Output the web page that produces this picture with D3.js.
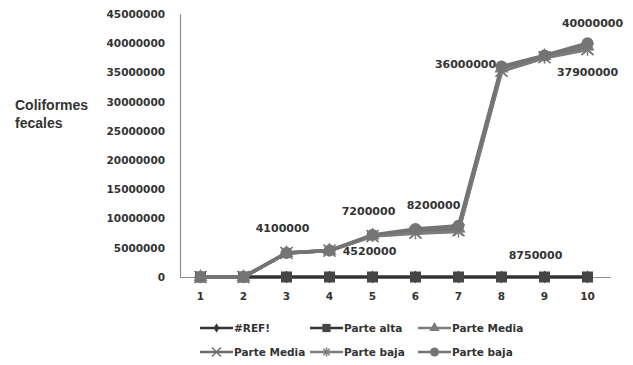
<!DOCTYPE html>
<html>
<head>
<meta charset="utf-8">
<script src="https://cdn.jsdelivr.net/npm/d3@7"></script>
<style>
  body { margin: 0; background: #fff; }
  svg { display: block; }
  text { font-family: "DejaVu Sans", sans-serif; }
</style>
</head>
<body>
<svg id="chart" width="633" height="365"></svg>
<script>
// Muestreos 1..10
const categories = ["1", "2", "3", "4", "5", "6", "7", "8", "9", "10"];

// Valores por serie (coliformes fecales)
const refValues        = [0, 0, 0, 0, 0, 0, 0, 0, 0, 0];
const parteAltaValues  = [0, 0, 0, 0, 0, 0, 0, 0, 0, 0];
const parteMediaTri    = [0, 0, 4100000, 4520000, 7100000, 7900000, 8300000, 35700000, 37800000, 39500000];
const parteMediaCross  = [0, 0, 4100000, 4520000, 7000000, 7600000, 8000000, 35300000, 37600000, 39000000];
const parteBajaStar    = [0, 0, 4100000, 4520000, 7000000, 7500000, 7800000, 35200000, 37500000, 38900000];
const parteBajaCircle  = [0, 0, 4100000, 4520000, 7200000, 8200000, 8750000, 36000000, 37900000, 40000000];

const yTicks = [0, 5000000, 10000000, 15000000, 20000000, 25000000, 30000000, 35000000, 40000000, 45000000];

// Desplazamiento de cada etiqueta respecto a su punto (muestreos 3..10)
const labelOffsets = [
  null, null,
  [-4, -25], [40, 1], [-4, -24], [18, -24], [77, 29], [-36, -2], [43, 17], [5, -20]
];

const series = [
  { name: "#REF!",       values: refValues,       color: "#343434", width: 3,   marker: "diamond" },
  { name: "Parte alta",  values: parteAltaValues, color: "#343434", width: 3,   marker: "square" },
  { name: "Parte Media", values: parteMediaTri,   color: "#7c7c7c", width: 3.5, marker: "triangle" },
  { name: "Parte Media", values: parteMediaCross, color: "#6c6c6c", width: 3.5, marker: "cross" },
  { name: "Parte baja",  values: parteBajaStar,   color: "#7c7c7c", width: 3.5, marker: "star" },
  { name: "Parte baja",  values: parteBajaCircle, color: "#747474", width: 3.5, marker: "circle" }
];

const svg = d3.select("#chart");

const x = d3.scaleBand().domain(categories).range([180, 610]);
const y = d3.scaleLinear().domain([0, 45000000]).range([277, 14]);
const cx = c => x(c) + x.bandwidth() / 2 - 1;

// Ejes
const yAxis = svg.append("g")
  .attr("transform", "translate(180,0)")
  .call(d3.axisLeft(y).tickValues(yTicks).tickSize(0).tickPadding(15).tickFormat(d3.format("d")));
yAxis.select(".domain").attr("stroke", "#8c8c8c").attr("stroke-width", 1.2);
yAxis.selectAll("text").attr("font-size", 10.5).attr("font-weight", "bold").attr("fill", "#333");

const xAxis = svg.append("g")
  .attr("transform", "translate(0,277)")
  .call(d3.axisBottom(x).tickSize(0).tickPadding(15));
xAxis.select(".domain").attr("stroke", "#8c8c8c").attr("stroke-width", 1.2);
xAxis.selectAll("text").attr("font-size", 10.5).attr("font-weight", "bold").attr("fill", "#333")
  .attr("transform", "translate(-1,1)");

// Título del eje Y
svg.append("text").attr("x", 15).attr("y", 110)
  .attr("font-size", 14).attr("font-weight", "bold").attr("fill", "#333")
  .style("font-family", "Liberation Sans, Arial, sans-serif")
  .selectAll("tspan").data(["Coliformes", "fecales"]).join("tspan")
  .attr("x", 15).attr("dy", (d, i) => i === 0 ? 0 : 18).text(d => d);

function drawMarker(g, type, color, px, py, s) {
  switch (type) {
    case "diamond":
      g.append("path").attr("d", d3.symbol(d3.symbolDiamond, s * s * 0.6)()).attr("transform", `translate(${px},${py})`).attr("fill", color);
      break;
    case "square":
      g.append("rect").attr("x", px - s / 2).attr("y", py - s / 2).attr("width", s).attr("height", s).attr("fill", color);
      break;
    case "triangle":
      g.append("path").attr("d", d3.symbol(d3.symbolTriangle, s * s * 0.7)()).attr("transform", `translate(${px},${py})`).attr("fill", color);
      break;
    case "cross":
      g.append("path").attr("d", d3.symbol(d3.symbolTimes, s * s * 0.8)()).attr("transform", `translate(${px},${py})`)
        .attr("fill", "none").attr("stroke", color).attr("stroke-width", 1.5);
      break;
    case "star": {
      const r = s / 2;
      const p = d3.path();
      for (let k = 0; k < 4; k++) {
        const a = k * Math.PI / 4;
        p.moveTo(px - r * Math.cos(a), py - r * Math.sin(a));
        p.lineTo(px + r * Math.cos(a), py + r * Math.sin(a));
      }
      g.append("path").attr("d", p.toString()).attr("stroke", color).attr("stroke-width", 1.5).attr("fill", "none");
      break;
    }
    case "circle":
      g.append("circle").attr("cx", px).attr("cy", py).attr("r", s / 2).attr("fill", color);
      break;
  }
}

const markerSize = { diamond: 9, square: 11, triangle: 11, cross: 11, star: 12, circle: 12 };

// Series
const line = d3.line().x((d, i) => cx(categories[i])).y(d => y(d));
series.forEach(s => {
  const g = svg.append("g");
  g.append("path").datum(s.values).attr("d", line)
    .attr("fill", "none").attr("stroke", s.color).attr("stroke-width", s.width).attr("stroke-linejoin", "round");
  s.values.forEach((v, i) => {
    const sz = markerSize[s.marker];
    drawMarker(g, s.marker, s.marker === "square" ? "#454545" : s.color, cx(categories[i]), y(v), sz);
  });
});

// Etiquetas de datos (Parte baja)
svg.append("g").selectAll("text")
  .data(parteBajaCircle.map((v, i) => ({ v, i })).filter(d => labelOffsets[d.i]))
  .join("text")
  .attr("x", d => cx(categories[d.i]) + labelOffsets[d.i][0])
  .attr("y", d => y(d.v) + labelOffsets[d.i][1])
  .attr("dy", "0.35em")
  .attr("text-anchor", "middle")
  .attr("font-size", 11).attr("font-weight", "bold").attr("fill", "#333")
  .text(d => d.v);

// Leyenda
const legendCols = [200, 310, 418];
const legendRows = [328, 352];
series.forEach((s, k) => {
  const lx = legendCols[k % 3];
  const ly = legendRows[Math.floor(k / 3)];
  const g = svg.append("g");
  g.append("line").attr("x1", lx).attr("x2", lx + 33).attr("y1", ly).attr("y2", ly)
    .attr("stroke", s.color).attr("stroke-width", 2.5);
  drawMarker(g, s.marker, s.marker === "square" ? "#454545" : s.color, lx + 16.5, ly, markerSize[s.marker] * 0.75);
  g.append("text").attr("x", lx + 34).attr("y", ly).attr("dy", "0.35em")
    .attr("font-size", 10.5).attr("font-weight", "bold").attr("fill", "#333").text(s.name);
});
</script>
</body>
</html>
